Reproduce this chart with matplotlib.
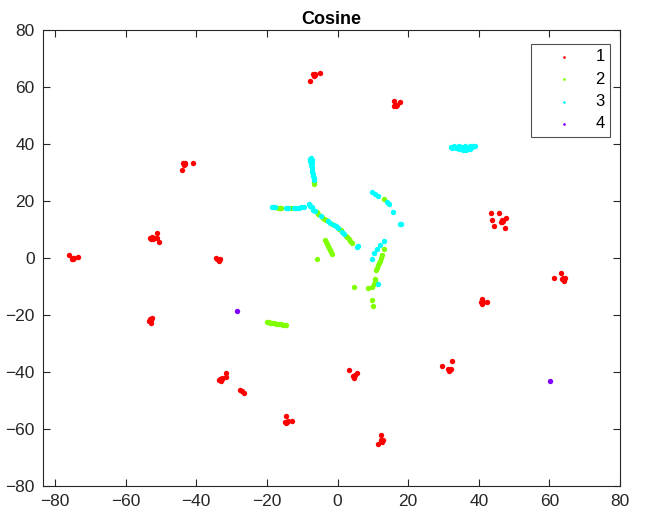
import matplotlib
matplotlib.use("Agg")
import matplotlib.pyplot as plt

plt.rcParams['font.family'] = ['Liberation Sans', 'DejaVu Sans']

# ---- data ----
red_x = [
    -75.3, -74.8, -75.0, -74.6, -76.0, -73.5,
    -52.8, -52.3, -52.5, -52.1, -53.0, -51.0, -51.2, -50.5,
    -43.8, -43.3, -43.5, -43.1, -41.0, -44.0,
    -34.0, -33.5, -33.2, -33.7, -34.4,
    -53.2, -52.8, -53.0, -52.6, -53.5, -52.7,
    -33.3, -32.8, -33.0, -32.6, -33.6, -31.5, -31.6,
    -27.5, -27.0, -26.4,
    -14.8, -14.3, -14.5, -14.1, -14.6, -12.8,
    4.3, 4.8, 4.6, 5.0, 3.3, 5.4,
    12.3, 12.7, 12.5, 12.9, 12.4, 11.6,
    31.3, 31.8, 31.5, 32.0, 29.6, 32.4,
    40.6, 41.0, 40.8, 41.2, 42.2, 41.0,
    46.3, 46.7, 46.5, 46.9, 43.6, 45.6, 43.8, 47.6, 44.3, 47.5,
    63.8, 64.2, 64.0, 64.4, 63.6, 61.3, 63.2,
    -6.9, -6.5, -6.7, -6.3, -5.1, -7.9,
    16.1, 16.5, 16.3, 16.7, 17.6, 16.1,
]
red_y = [
    -0.3, -0.5, 0.0, -0.1, 1.0, 0.5,
    6.8, 6.5, 7.2, 7.0, 7.0, 8.8, 7.0, 5.6,
    33.2, 33.4, 32.8, 33.0, 33.5, 30.8,
    -0.3, -0.8, -0.5, -1.1, 0.0,
    -21.3, -21.6, -22.0, -21.2, -22.0, -22.8,
    -42.3, -42.6, -43.0, -42.2, -42.8, -40.2, -41.8,
    -46.3, -46.6, -47.2,
    -57.4, -57.7, -58.0, -57.3, -55.5, -57.3,
    -41.3, -41.6, -42.0, -41.2, -39.2, -40.3,
    -63.8, -64.2, -64.5, -63.7, -62.0, -65.3,
    -38.8, -39.2, -39.6, -38.8, -38.0, -36.2,
    -15.4, -15.8, -16.1, -15.3, -15.3, -14.3,
    12.8, 12.5, 13.2, 13.0, 15.9, 15.9, 13.5, 13.9, 11.2, 10.6,
    -7.0, -7.5, -7.9, -7.1, -7.5, -7.0, -5.4,
    64.5, 64.2, 64.0, 64.6, 64.9, 62.0,
    53.4, 53.3, 53.8, 53.6, 54.7, 55.1,
]

green_x = [
    -6.7, -6.6,
    -17.0, -16.4, -15.9, -13.2,
    -5.9, -5.4, -4.3, -3.8, -3.3, -1.5, 0.5, 0.9, 2.3, 2.8, 3.2, 3.6, 4.0,
    -3.6, -3.3, -3.0, -2.7, -2.4, -2.1, -1.8, -1.5,
    -5.7,
    13.2, 13.1,
    11.0, 11.2, 11.5, 11.8, 12.1, 12.4, 12.6,
    10.4, 10.6, 10.7,
    8.5, 9.8, 4.8, 9.9, 10.1,
    -20.0, -19.5, -19.0, -18.5, -18.0, -17.5, -17.0, -16.5, -16.0, -15.5, -15.0, -14.5,
]
green_y = [
    26.6, 26.1,
    17.7, 17.6, 17.5, 17.4,
    16.2, 15.6, 14.3, 13.7, 13.3, 12.1, 10.1, 9.7, 7.9, 7.3, 6.7, 6.0, 5.3,
    6.3, 5.6, 4.9, 4.2, 3.5, 2.8, 2.1, 1.4,
    -0.4,
    20.7, 3.3,
    -4.2, -3.4, -2.6, -1.7, -0.9, 0.0, 0.9,
    -9.0, -8.1, -7.3,
    -10.5, -10.3, -10.0, -14.7, -17.0,
    -22.5, -22.6, -22.7, -22.8, -22.9, -23.0, -23.1, -23.2, -23.3, -23.4, -23.5, -23.6,
]

cyan_x = [
    -7.9, -7.5, -7.7, -7.3, -7.6, -7.2, -7.5, -7.2, -7.3, -7.1, -7.0, -6.9, -6.8, -6.7,
    -18.6, -18.1, -17.6, -14.5, -14.0, -12.3, -11.7, -10.9, -10.3, -9.6,
    -8.0, -7.7, -7.3, -6.9, -6.5, -4.8, -2.6, -2.0, -1.0, -0.5, 0.0, 1.3, 1.8, 5.6, 5.9,
    9.8, 10.7, 11.6, 14.0, 14.7, 15.6, 17.7, 17.9,
    9.8, 10.3, 11.2, 12.1, 13.1, 11.4,
    32.0, 32.5, 33.0, 33.5, 34.0, 34.5, 35.0, 35.5, 36.0, 36.5, 37.0, 37.5, 38.0, 38.5,
    39.0, 34.5, 36.0, 37.5, 35.5, 36.5,
]
cyan_y = [
    34.8, 35.0, 34.2, 34.4, 33.5, 33.5, 32.7, 32.0, 31.2, 30.3, 29.5, 28.7, 28.0, 27.3,
    18.0, 17.9, 17.8, 17.4, 17.4, 17.5, 17.6, 17.7, 17.8, 18.0,
    19.0, 18.4, 17.8, 17.0, 16.6, 14.9, 12.9, 12.4, 11.7, 11.2, 10.6, 9.2, 8.6, 4.0, 4.2,
    23.0, 22.3, 21.7, 19.8, 18.8, 16.3, 12.1, 11.8,
    -0.4, 1.6, 3.1, 4.5, 5.9, -9.0,
    39.0, 38.7, 39.2, 38.6, 39.0, 38.3, 39.0, 38.0, 38.8, 37.8, 38.6, 38.2, 39.0, 39.2,
    39.2, 39.3, 39.3, 39.3, 38.5, 38.3,
]

purple_x = [-28.5, 60.1]
purple_y = [-18.5, -43.0]

groups = [("1", red_x, red_y, (1.0, 0.0, 0.0)),
          ("2", green_x, green_y, (0.5, 1.0, 0.0)),
          ("3", cyan_x, cyan_y, (0.0, 1.0, 1.0)),
          ("4", purple_x, purple_y, (0.5, 0.0, 1.0))]

fig = plt.figure(figsize=(6.45, 5.15), dpi=100)
ax = fig.add_axes([0.0667, 0.0563, 0.8946, 0.8854])

for label, xs, ys, col in groups:
    ax.scatter(xs, ys, s=15, color=col, linewidths=0, label=label)

ax.set_xlim(-83.4, 80)
ax.set_ylim(-80, 80)
ax.set_xticks(range(-80, 81, 20))
ax.set_yticks(range(-80, 81, 20))
ax.tick_params(direction='in', top=True, right=True, length=5, width=0.8,
               labelsize=12.5, colors='#262626', labelcolor='#262626', pad=6)
for sp in ax.spines.values():
    sp.set_color('#262626')
    sp.set_linewidth(0.8)

ax.set_title("Cosine", fontsize=13, fontweight='bold', pad=4)

leg = ax.legend(loc='upper right', bbox_to_anchor=(610 / 645, 1 - 44 / 515),
                bbox_transform=fig.transFigure, borderaxespad=0,
                fontsize=12, markerscale=0.5, frameon=True,
                fancybox=False, edgecolor='#262626', borderpad=0.3,
                handletextpad=0.2, labelspacing=0.45, handlelength=3.4)
leg.get_frame().set_linewidth(0.8)

fig.savefig("out.png", dpi=100)
